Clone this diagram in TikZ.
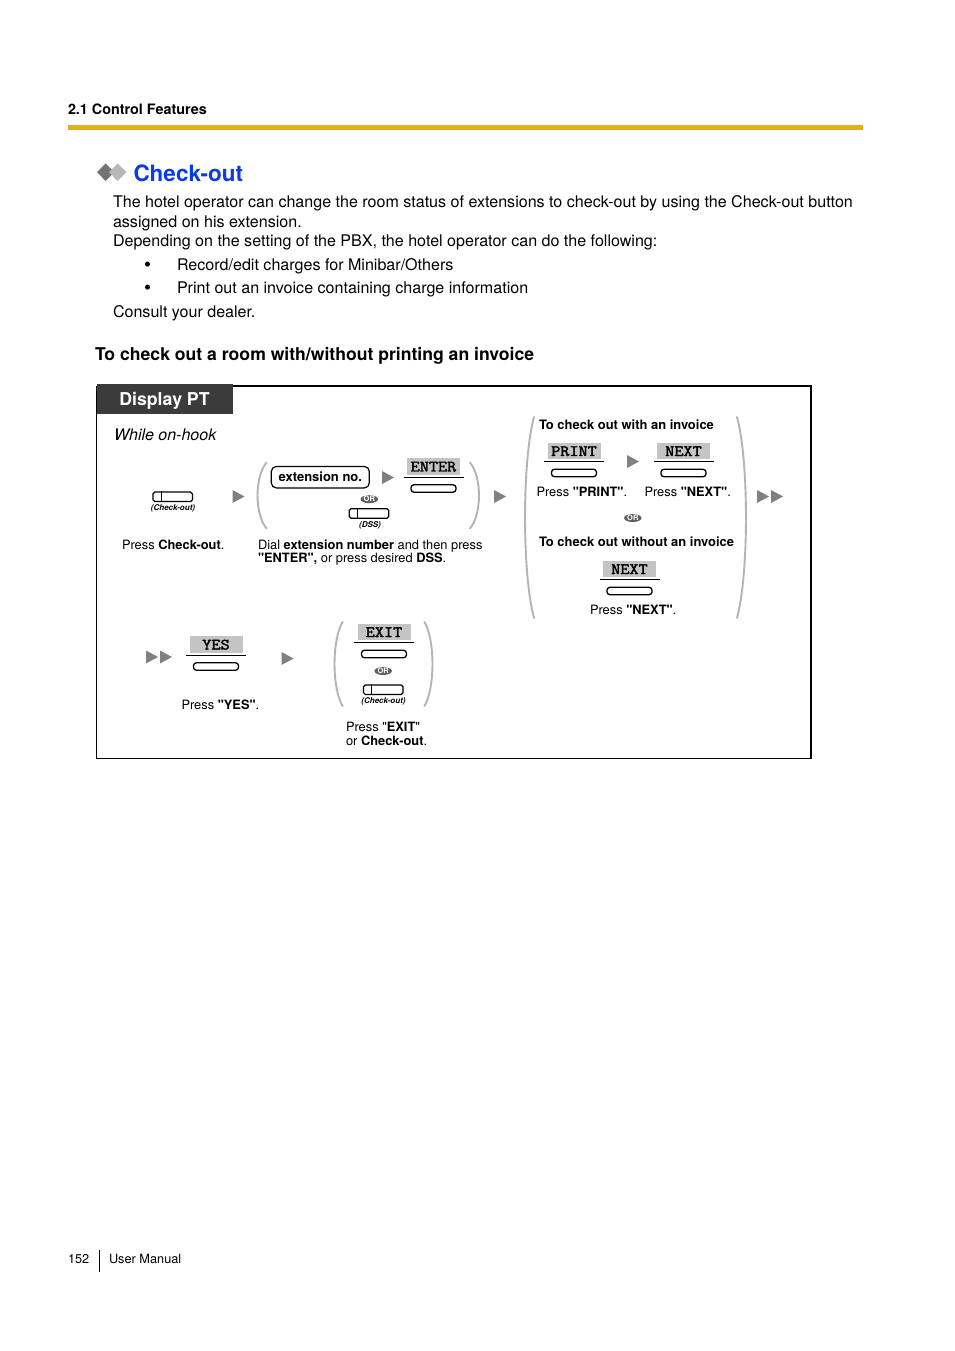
\documentclass[tikz,border=0pt]{standalone}
\usepackage{fontspec}
\defaultfontfeatures[\rmfamily]{}
\setmainfont{TeX Gyre Heros}
\newfontfamily\keyfont[FakeStretch=1.12,FakeBold=2.2]{Latin Modern Mono}
\usetikzlibrary{calc,shapes.geometric}
\definecolor{keygray}{HTML}{C4C4C4}
\definecolor{tri}{HTML}{808080}
\definecolor{paren}{HTML}{B4B4B4}
\definecolor{headbg}{HTML}{3B3B3B}
\definecolor{barcol}{HTML}{E0B400}
\definecolor{blue1}{HTML}{0A3CE6}
\tikzset{
  txt/.style={anchor=base west,inner sep=0pt,outer sep=0pt},
  body/.style={txt,font=\fontsize{16.07}{16}\selectfont},
  bulletmark/.style={txt,font=\fontsize{20}{20}\selectfont},
  small/.style={txt,font=\fontsize{12.85}{13}\selectfont},
  boldsmall/.style={small,font=\fontsize{12.95}{13}\selectfont\bfseries},
  caption/.style={inner sep=0pt,font=\fontsize{8}{8}\selectfont\bfseries\itshape},
  keylabel/.style={fill=keygray,inner sep=0pt,minimum width=53pt,minimum height=16.5pt,font=\fontsize{15.8}{16}\selectfont\keyfont},
  keyline/.style={line width=1pt,black},
  softkey/.style={draw=black,line width=1.3pt,rounded corners=3pt,fill=white,minimum width=45pt,minimum height=7.5pt,inner sep=0pt},
  fixedkey/.style={draw=black,line width=1.2pt,rounded corners=1.8pt,minimum width=39.5pt,minimum height=9.5pt,inner sep=0pt},
  ornode/.style={ellipse,fill=black!62,text=white,inner sep=0pt,minimum width=17.5pt,minimum height=8pt,font=\fontsize{7.5}{8}\selectfont\bfseries},
  tribase/.style={fill=tri,draw=none},
  brace/.style={draw=paren,line width=1.9pt,line cap=round},
}
\newcommand{\tria}[2]{\fill[tribase] (#1-6,#2-6.5) -- (#1+6,#2) -- (#1-6,#2+6.5) -- cycle;}
% softkey group: #1 name, #2 label, #3 centre x, #4 top y of label
\newcommand{\skey}[4]{
  \node[keylabel] (#1L) at (#3,#4+8.2) {#2};
  \coordinate (#1a) at (#3-30,#4+18.5);
  \coordinate (#1b) at (#3+30,#4+18.5);
  \draw[keyline] (#1a) -- (#1b);
  \node[softkey] (#1K) at (#3,#4+30) {};
}
% fixed button: #1 name, #2 centre x, #3 centre y
\newcommand{\fkey}[3]{
  \node[fixedkey] (#1) at (#2,#3) {};
  \draw[line width=1.1pt] ($(#1.north west)+(8.8,0)$) -- ($(#1.south west)+(8.8,0)$);
}
% paren pair: #1 left x, #2 right x, #3 top, #4 bottom, #5 bulge
\newcommand{\parens}[5]{
  \draw[brace] (#1+#5,#3) .. controls ({#1-0.33*#5},{#3+(#4-#3)*0.22}) and ({#1-0.33*#5},{#3+(#4-#3)*0.78}) .. (#1+#5,#4);
  \draw[brace] (#2-#5,#3) .. controls ({#2+0.33*#5},{#3+(#4-#3)*0.22}) and ({#2+0.33*#5},{#3+(#4-#3)*0.78}) .. (#2-#5,#4);
}
\begin{document}
\begin{tikzpicture}[x=1pt,y=-1pt]
\useasboundingbox (0,0) rectangle (954,1351);
\fill[white] (0,0) rectangle (954,1351);
% page header
\node[txt,font=\fontsize{14.35}{15}\selectfont\bfseries] (sec) at (68,115) {2.1 Control Features};
\fill[barcol] (68,125) rectangle (863,130);
% title
\fill[black!55] (105.7,163.5) -- (114.5,172.2) -- (105.7,181) -- (97,172.2) -- cycle;
\fill[black!28] (117.7,163.5) -- (126.5,172.2) -- (117.7,181) -- (109,172.2) -- cycle;
\node[txt,font=\fontsize{22.5}{24}\selectfont\bfseries,text=blue1] (title) at (133.5,181.2) {Check-out};
% body
\node[body] (p1) at (113,207.7) {The hotel operator can change the room status of extensions to check-out by using the Check-out button};
\node[body] (p2) at (113,227) {assigned on his extension.};
\node[body] (p3) at (113,246) {Depending on the setting of the PBX, the hotel operator can do the following:};
\node[bulletmark] (b1d) at (144,271.5) {•};
\node[body] (b1) at (177,270) {Record/edit charges for Minibar/Others};
\node[bulletmark] (b2d) at (144,294.5) {•};
\node[body] (b2) at (177,293) {Print out an invoice containing charge information};
\node[body] (p4) at (113,317) {Consult your dealer.};
\node[txt,font=\fontsize{17.6}{18}\selectfont\bfseries] (sub) at (95,360) {To check out a room with/without printing an invoice};
% frame
\draw[line width=2pt] (96.5,386) -- (811,386) -- (811,758.5);
\draw[line width=1pt] (96.5,386) -- (96.5,758.5) -- (811,758.5);
\fill[headbg] (96.5,384) rectangle (233,414);
\node[font=\fontsize{17.7}{18}\selectfont\bfseries,text=white,inner sep=0pt] (dp) at (164.5,401) {Display PT};
\node[txt,font=\fontsize{16}{16}\selectfont\itshape] (hook) at (114,440) {While on-hook};
% step 1
\fkey{co1}{172.7}{496.8}
\node[caption] (co1c) at (173,508) {(Check-out)};
\node[small] (t1) at (122,549) {Press \textbf{Check-out}.};
\tria{238.5}{496.5}
% step 2
\parens{257.5}{479}{462.5}{528.5}{9}
\node[draw=black,line width=1.2pt,rounded corners=5pt,minimum width=98pt,minimum height=21.5pt,inner sep=0pt,font=\fontsize{13}{13}\selectfont\bfseries] (ext) at (320.3,477.2) {extension no.};
\tria{388}{477.5}
\skey{ent}{ENTER}{433.5}{458.5}
\node[ornode] (or1) at (369.3,499.2) {OR};
\fkey{dss}{369}{513.5}
\node[caption] (dssc) at (370,525) {(DSS)};
\node[small] (t2a) at (258,549.5) {Dial \textbf{extension number} and then press};
\node[small] (t2b) at (258,562.5) {\textbf{"ENTER",} or press desired \textbf{DSS}.};
\tria{500}{496.5}
% step 3
\parens{525}{746}{417}{618}{9}
\node[boldsmall] (h1) at (539,429.5) {To check out with an invoice};
\skey{pri}{PRINT}{574}{443}
\tria{633}{461.5}
\skey{nx1}{NEXT}{683.5}{443}
\node[small] (t3a) at (536.5,496.5) {Press \textbf{"PRINT"}.};
\node[small] (t3b) at (644.5,496.5) {Press \textbf{"NEXT"}.};
\node[ornode] (or2) at (632.8,518) {OR};
\node[boldsmall] (h2) at (539,546) {To check out without an invoice};
\skey{nx2}{NEXT}{629.5}{561}
\node[small] (t3c) at (590,614.5) {Press \textbf{"NEXT"}.};
\tria{763}{496.5}
\tria{777}{496.5}
% step 4
\tria{152}{657}
\tria{166}{657}
\skey{yes}{YES}{216}{636.5}
\node[small] (t4) at (181.5,709) {Press \textbf{"YES"}.};
\tria{287.5}{658.5}
% step 5
\parens{334.5}{432.5}{622}{706}{8}
\skey{exi}{EXIT}{384}{624}
\node[ornode] (or3) at (383.2,671) {OR};
\fkey{co2}{383.3}{689.7}
\node[caption] (co2c) at (383.5,701) {(Check-out)};
\node[small] (t5a) at (346,731) {Press "\textbf{EXIT}"};
\node[small] (t5b) at (346,745) {or \textbf{Check-out}.};
% footer
\node[txt,font=\fontsize{12.75}{13}\selectfont] (pg) at (68,1263.5) {152};
\coordinate (fa) at (99.5,1250);
\coordinate (fb) at (99.5,1272);
\draw[line width=0.8pt] (fa) -- (fb);
\node[txt,font=\fontsize{12.75}{13}\selectfont] (um) at (109,1263.5) {User Manual};
\end{tikzpicture}
\end{document}
